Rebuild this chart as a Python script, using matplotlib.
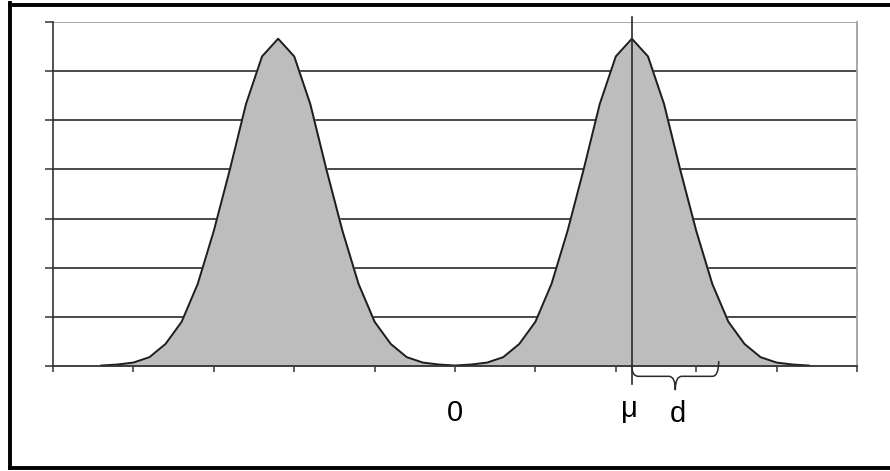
import matplotlib.pyplot as plt
import numpy as np
from matplotlib.lines import Line2D
from matplotlib.patches import PathPatch
from matplotlib.path import Path

# sample positions of the plotted series (step 0.2)
x = np.round(np.arange(-4.4, 4.41, 0.2), 1)

# values, left hump then right hump
left_hump = [0.001, 0.003, 0.007, 0.018, 0.045, 0.090, 0.167, 0.275, 0.400, 0.533, 0.630,
             0.666,
             0.630, 0.533, 0.400, 0.275, 0.167, 0.090, 0.045, 0.018, 0.007, 0.003, 0.001]
right_hump = [0.003, 0.007, 0.018, 0.045, 0.090, 0.167, 0.275, 0.400, 0.533, 0.630,
              0.666,
              0.630, 0.533, 0.400, 0.275, 0.167, 0.090, 0.045, 0.018, 0.007, 0.003, 0.001]
y = np.array(left_hump + right_hump)

x_ticks = np.arange(-5, 6, 1)
y_ticks = np.arange(0, 0.71, 0.1)

mu = 2.2
d_end = 3.28

plt.rcParams['font.family'] = ['Liberation Sans', 'DejaVu Sans']

fig = plt.figure(figsize=(8.9, 4.71), dpi=100)
ax = fig.add_axes([53 / 890, 1 - 366 / 471, (857 - 53) / 890, (366 - 22) / 471])

# horizontal grid lines (under the fill)
for yt in y_ticks[1:-1]:
    ax.axhline(yt, color="#3a3a3a", lw=1.3, zorder=1)
ax.axhline(y_ticks[-1], color="#a0a0a0", lw=1.3, zorder=1)

ax.fill_between(x, y, 0, color="#bdbdbd", zorder=2)
ax.plot(x, y, color="#1e1e1e", lw=1.4, zorder=3)

ax.set_xlim(-5, 5)
ax.set_ylim(0, 0.7)
ax.set_xticks(x_ticks)
ax.set_yticks(y_ticks)
ax.set_xticklabels([])
ax.set_yticklabels([])
ax.tick_params(axis="y", direction="out", length=6, width=1.1, color="#333333")
ax.tick_params(axis="x", direction="out", length=4.5, width=1.1, color="#333333")
ax.spines["left"].set_color("#333333")
ax.spines["left"].set_linewidth(1.2)
ax.spines["bottom"].set_color("#333333")
ax.spines["bottom"].set_linewidth(1.3)
ax.spines["bottom"].set_zorder(4)
ax.spines["right"].set_color("#a0a0a0")
ax.spines["right"].set_linewidth(1.3)
ax.spines["top"].set_visible(False)

# mean line
ax.plot([mu, mu], [0.71, -0.037], color="#2a2a2a", lw=1.2, clip_on=False, zorder=5)

# brace marking d
yb = -0.021
tip = -0.049
verts = [(mu, 0.0), (mu, yb), (mu + 0.08, yb),
         (2.66, yb),
         (2.74, yb), (2.74, tip),
         (2.74, yb), (2.82, yb),
         (d_end - 0.08, yb),
         (d_end, yb), (d_end, 0.01)]
codes = [Path.MOVETO, Path.CURVE3, Path.CURVE3,
         Path.LINETO,
         Path.CURVE3, Path.CURVE3,
         Path.CURVE3, Path.CURVE3,
         Path.LINETO,
         Path.CURVE3, Path.CURVE3]
ax.add_patch(PathPatch(Path(verts, codes), fill=False, ec="#2a2a2a", lw=1.1,
                       clip_on=False, zorder=5))

ax.text(0, -0.112, "0", ha="center", va="baseline", fontsize=21, color="black")
ax.text(2.17, -0.104, "μ", ha="center", va="baseline", fontsize=21, color="black")
ax.text(2.77, -0.114, "d", ha="center", va="baseline", fontsize=21, color="black")

# outer frame (right side runs off the image)
for xs, ys in [((10, 10), (3, 468)), ((10, 895), (4.5, 4.5)), ((10, 895), (467.5, 467.5))]:
    fig.add_artist(Line2D([v / 890 for v in xs], [1 - v / 471 for v in ys],
                          transform=fig.transFigure, color="black", lw=2.8))

fig.savefig("out.png", dpi=100)
